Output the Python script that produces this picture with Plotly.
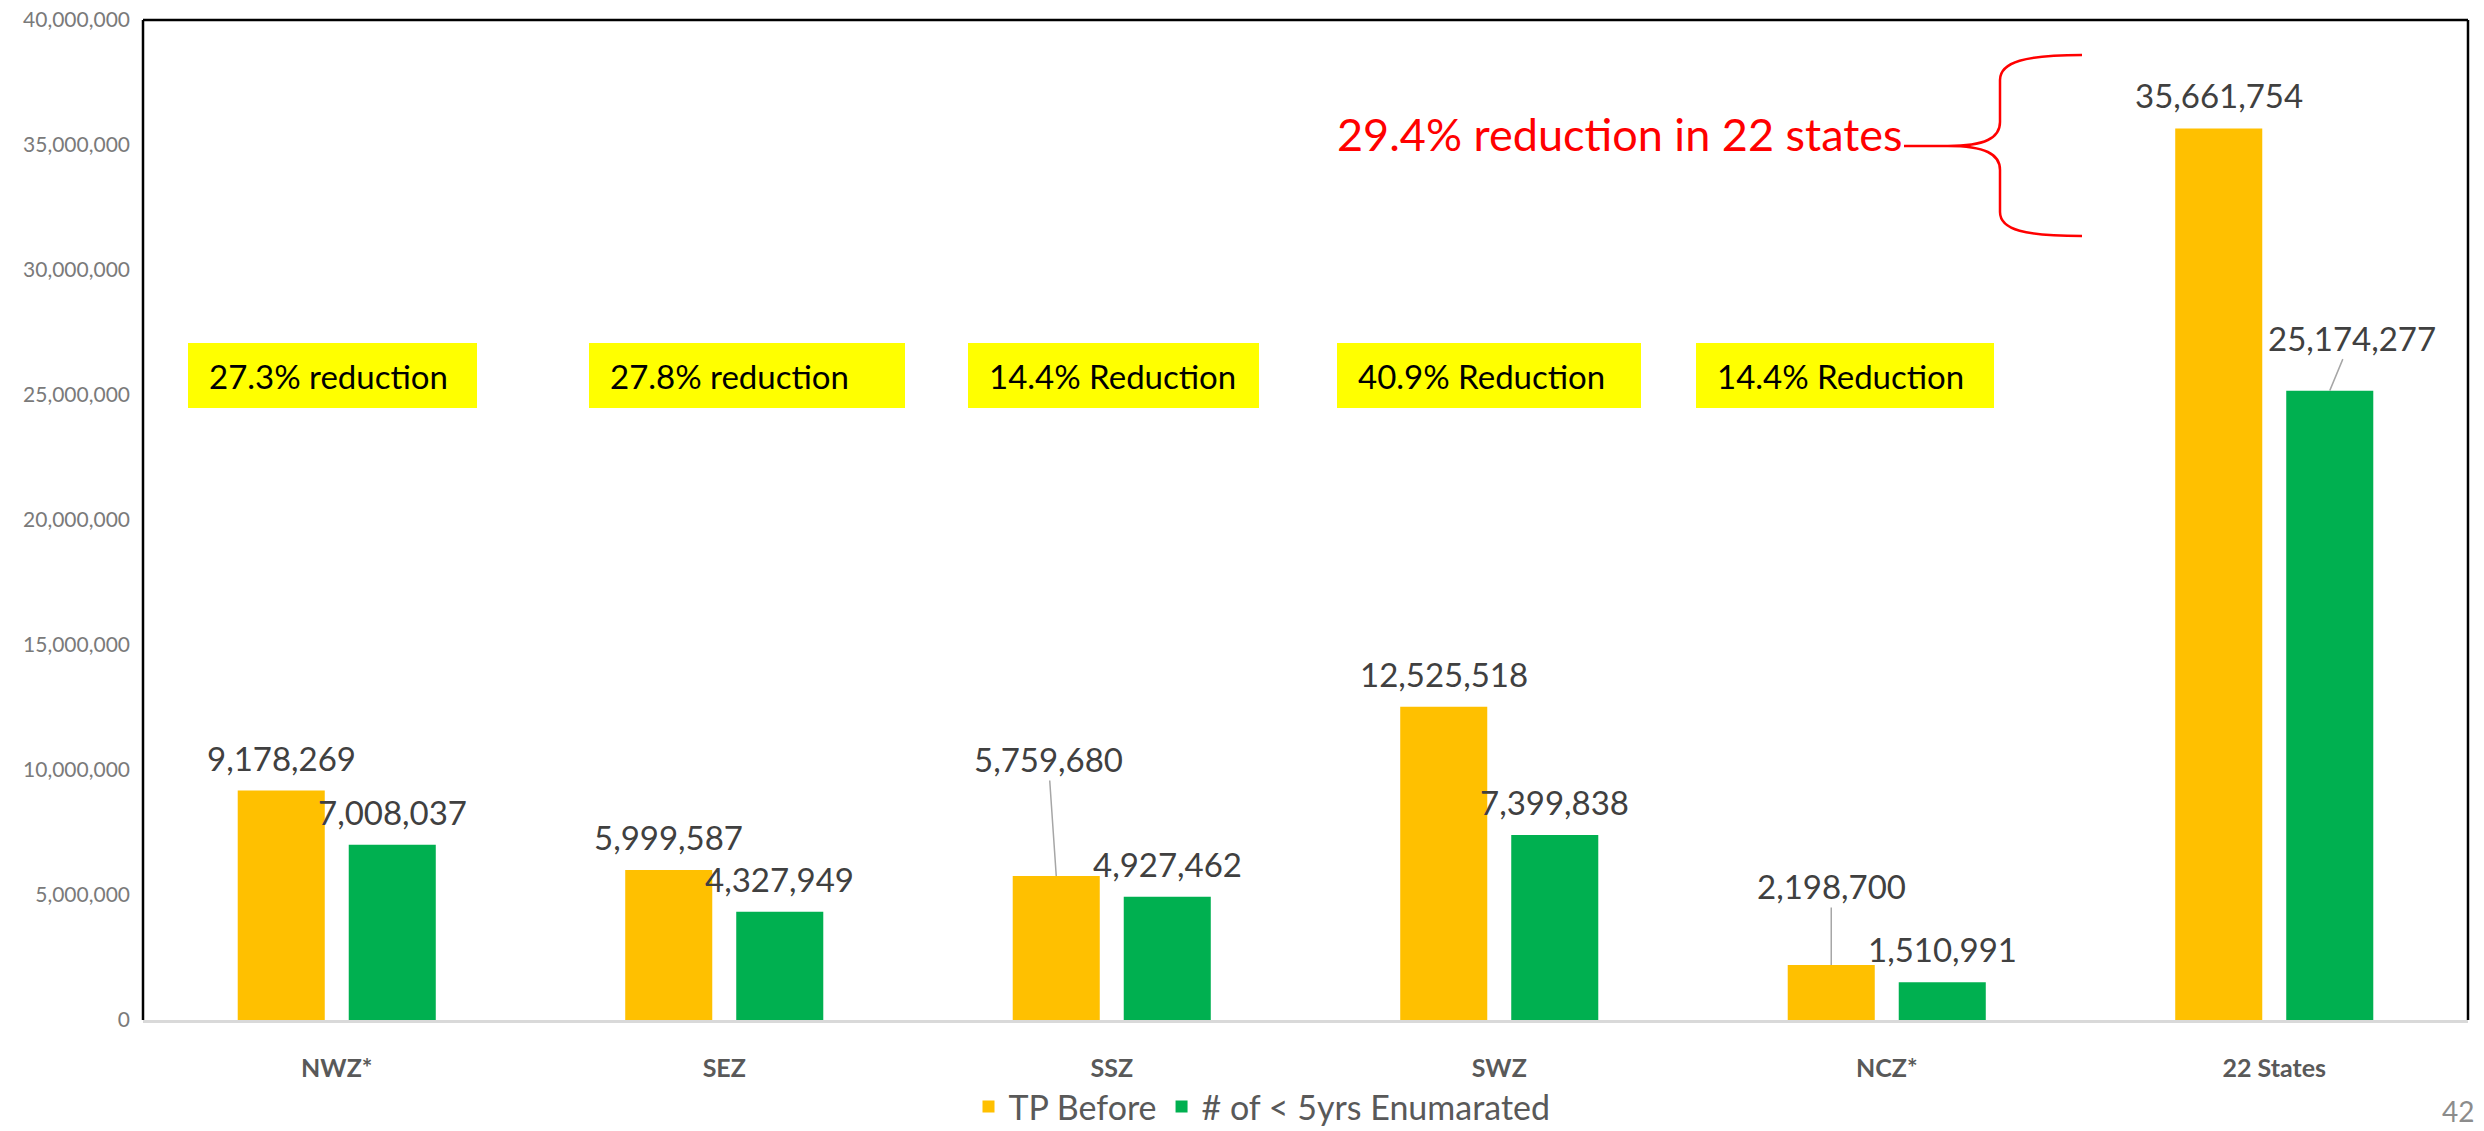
import plotly.graph_objects as go

categories = ["NWZ*", "SEZ", "SSZ", "SWZ", "NCZ*", "22 States"]
tp_before = [9178269, 5999587, 5759680, 12525518, 2198700, 35661754]
enumerated = [7008037, 4327949, 4927462, 7399838, 1510991, 25174277]
series_names = ["TP Before", "# of < 5yrs Enumarated"]
reduction_labels = ["27.3% reduction", "27.8% reduction", "14.4% Reduction",
                    "40.9% Reduction", "14.4% Reduction"]
summary_label = "29.4% reduction in 22 states"
y_ticks = [0, 5000000, 10000000, 15000000, 20000000, 25000000,
           30000000, 35000000, 40000000]
page_number = "42"

W, H = 2484, 1131
L, R, T, B = 143, 2468, 20, 1020
FONT = "Lato"
ORANGE = "#FFC000"
GREEN = "#00B050"


def xp(px):
    return (px - L) / (R - L)


def yp(py):
    return (B - py) / (B - T)


fig = go.Figure()
fig.add_trace(go.Bar(name=series_names[0], x=categories, y=tp_before,
                     marker=dict(color=ORANGE, line=dict(width=0))))
fig.add_trace(go.Bar(name=series_names[1], x=categories, y=enumerated,
                     marker=dict(color=GREEN, line=dict(width=0))))

half = 55.5  # pixel offset of each bar from category centre
# special label placements (pixel offsets of label centre from bar top), with leader lines
special = {(0, 2): (-8, -117), (0, 4): (0, -79), (1, 5): (22, -53)}
annotations = []
for s, vals in enumerate([tp_before, enumerated]):
    shift = -half if s == 0 else half
    for i, v in enumerate(vals):
        txt = f"{v:,}"
        if (s, i) in special:
            ax, ay = special[(s, i)]
            annotations.append(dict(x=categories[i], y=v, xref="x", yref="y", text=txt,
                                    xshift=shift, showarrow=True, arrowhead=0,
                                    arrowwidth=1.5, arrowcolor="#A6A6A6", standoff=0,
                                    ax=ax, ay=ay,
                                    font=dict(family=FONT, size=33, color="#404040")))
        else:
            annotations.append(dict(x=categories[i], y=v, xref="x", yref="y", text=txt,
                                    xshift=shift, yshift=33, yanchor="middle",
                                    showarrow=False,
                                    font=dict(family=FONT, size=33, color="#404040")))

# yellow reduction boxes
box_x = [(188, 477), (589, 905), (968, 1259), (1337, 1641), (1696, 1994)]
box_y = (343, 408)
shapes = []
for (x0, x1), lab in zip(box_x, reduction_labels):
    shapes.append(dict(type="rect", xref="paper", yref="paper",
                       x0=xp(x0), x1=xp(x1), y0=yp(box_y[1]), y1=yp(box_y[0]),
                       fillcolor="#FFFF00", line=dict(width=0), layer="above"))
    annotations.append(dict(x=xp(x0 + 19), y=yp((box_y[0] + box_y[1]) / 2),
                            xref="paper", yref="paper", text=lab, showarrow=False,
                            xanchor="left", yanchor="middle",
                            font=dict(family=FONT, size=33, color="#000000")))

# red summary text and brace
annotations.append(dict(x=xp(1904), y=yp(134), xref="paper", yref="paper",
                        text=summary_label, showarrow=False, xanchor="right",
                        yanchor="middle", font=dict(family=FONT, size=45, color="#FF0000")))


def P(x, y):
    return f"{xp(x):.5f},{yp(y):.5f}"


brace = (f"M {P(1904,146)} L {P(1948,146)} "
         f"C {P(1985,146)} {P(2000,138)} {P(2000,122)} "
         f"L {P(2000,80)} C {P(2000,62)} {P(2025,55)} {P(2082,55)} "
         f"M {P(1948,146)} C {P(1985,146)} {P(2000,154)} {P(2000,170)} "
         f"L {P(2000,212)} C {P(2000,230)} {P(2025,236)} {P(2082,236)}")
shapes.append(dict(type="path", xref="paper", yref="paper", path=brace,
                   line=dict(color="#FF0000", width=2.5)))

# plot border (black left/top/right)
for x0, y0, x1, y1 in [(0, 0, 0, 1), (0, 1, 1, 1), (1, 1, 1, 0)]:
    shapes.append(dict(type="line", xref="paper", yref="paper", x0=x0, y0=y0, x1=x1, y1=y1,
                       line=dict(color="#000000", width=2.5), layer="above"))

annotations.append(dict(x=xp(2458), y=yp(1130), xref="paper", yref="paper",
                        text=page_number, showarrow=False, xanchor="center", yanchor="bottom",
                        font=dict(family=FONT, size=28, color="#8C8C8C")))

fig.update_layout(
    width=W, height=H,
    margin=dict(l=L, r=W - R, t=T, b=H - B, autoexpand=False),
    paper_bgcolor="white", plot_bgcolor="white",
    barmode="group", bargap=0.427, bargroupgap=0.216,
    font=dict(family=FONT, color="#595959"),
    showlegend=True,
    legend=dict(orientation="h", x=xp(1262), y=yp(1107), xanchor="center",
                yanchor="middle", font=dict(family=FONT, size=34, color="#595959"),
                itemclick=False, traceorder="normal"),
    xaxis=dict(showgrid=False, showline=True, linecolor="#D9D9D9", linewidth=3,
               ticks="", tickfont=dict(family=FONT, size=25, color="#595959", weight="bold"),
               ticklabelstandoff=24),
    yaxis=dict(range=[0, 40000000], tickvals=y_ticks, tickformat=",d",
               showgrid=False, zeroline=False, showline=False, ticks="",
               tickfont=dict(family=FONT, size=21, color="#7A7A7A"),
               ticklabelstandoff=12),
    shapes=shapes,
    annotations=annotations,
)

fig.write_html("out.html", config={"displayModeBar": False},
               post_script="document.body.style.margin='0';document.body.style.overflow='hidden';")
